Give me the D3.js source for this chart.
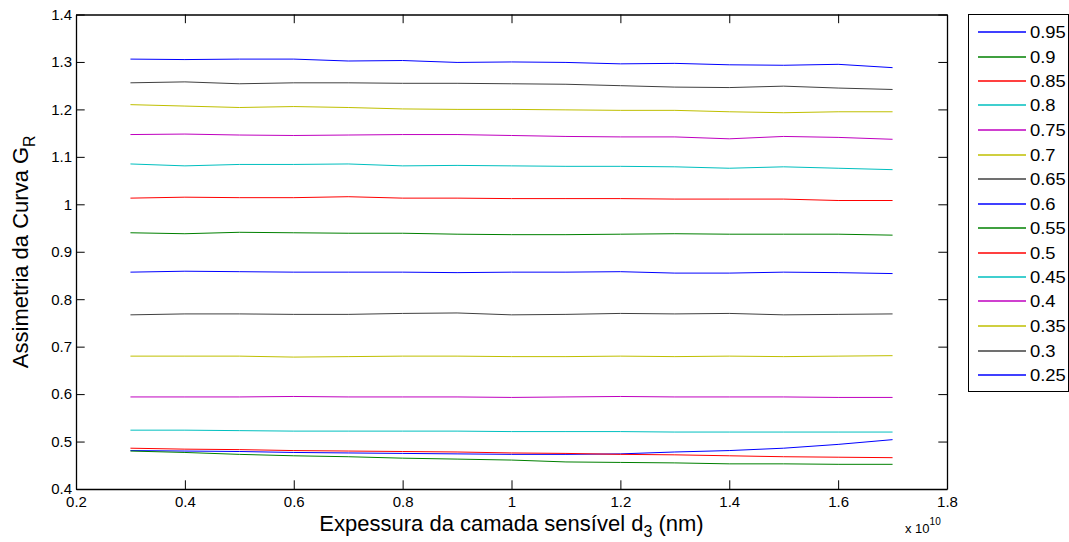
<!DOCTYPE html>
<html>
<head>
<meta charset="utf-8">
<script src="https://cdn.jsdelivr.net/npm/d3@7"></script>
<style>
  html, body { margin: 0; padding: 0; background: #fff; }
  svg { display: block; font-family: "Liberation Sans", Arial, Helvetica, sans-serif; }
</style>
</head>
<body>
<svg id="chart" width="1069" height="542"></svg>
<script>
// ---- data ----
const xValues = [0.3e10, 0.4e10, 0.5e10, 0.6e10, 0.7e10, 0.8e10, 0.9e10, 1.0e10, 1.1e10, 1.2e10, 1.3e10, 1.4e10, 1.5e10, 1.6e10, 1.7e10];
const seriesNames = ["0.95", "0.9", "0.85", "0.8", "0.75", "0.7", "0.65", "0.6", "0.55", "0.5", "0.45", "0.4", "0.35", "0.3", "0.25"];
const s095 = [0.481, 0.480, 0.479, 0.477, 0.476, 0.475, 0.474, 0.473, 0.473, 0.474, 0.478, 0.481, 0.486, 0.494, 0.504];
const s090 = [0.480, 0.477, 0.473, 0.470, 0.468, 0.465, 0.463, 0.461, 0.457, 0.456, 0.455, 0.453, 0.453, 0.452, 0.452];
const s085 = [0.486, 0.484, 0.483, 0.481, 0.480, 0.479, 0.478, 0.476, 0.475, 0.473, 0.472, 0.470, 0.468, 0.467, 0.466];
const s080 = [0.524, 0.524, 0.523, 0.522, 0.522, 0.522, 0.522, 0.521, 0.521, 0.521, 0.520, 0.520, 0.520, 0.520, 0.520];
const s075 = [0.594, 0.594, 0.594, 0.595, 0.594, 0.594, 0.594, 0.593, 0.594, 0.595, 0.594, 0.594, 0.594, 0.593, 0.593];
const s070 = [0.680, 0.680, 0.680, 0.678, 0.679, 0.680, 0.680, 0.679, 0.679, 0.680, 0.679, 0.680, 0.679, 0.680, 0.681];
const s065 = [0.767, 0.769, 0.769, 0.768, 0.768, 0.770, 0.771, 0.767, 0.768, 0.770, 0.769, 0.770, 0.767, 0.768, 0.769];
const s060 = [0.857, 0.859, 0.858, 0.857, 0.857, 0.857, 0.856, 0.857, 0.857, 0.858, 0.855, 0.855, 0.857, 0.856, 0.854];
const s055 = [0.940, 0.938, 0.941, 0.940, 0.939, 0.939, 0.937, 0.936, 0.936, 0.937, 0.938, 0.937, 0.937, 0.937, 0.935];
const s050 = [1.013, 1.015, 1.014, 1.014, 1.016, 1.013, 1.013, 1.012, 1.012, 1.012, 1.011, 1.011, 1.011, 1.008, 1.008];
const s045 = [1.085, 1.081, 1.084, 1.084, 1.085, 1.081, 1.082, 1.081, 1.080, 1.080, 1.079, 1.076, 1.079, 1.076, 1.073];
const s040 = [1.147, 1.148, 1.146, 1.145, 1.146, 1.147, 1.147, 1.145, 1.143, 1.142, 1.142, 1.138, 1.143, 1.141, 1.137];
const s035 = [1.210, 1.207, 1.204, 1.206, 1.204, 1.201, 1.200, 1.200, 1.199, 1.198, 1.198, 1.195, 1.193, 1.195, 1.195];
const s030 = [1.256, 1.258, 1.254, 1.256, 1.256, 1.255, 1.255, 1.254, 1.253, 1.250, 1.247, 1.246, 1.249, 1.245, 1.242];
const s025 = [1.306, 1.305, 1.306, 1.306, 1.302, 1.303, 1.299, 1.300, 1.299, 1.296, 1.297, 1.294, 1.293, 1.295, 1.288];
const seriesValues = [s095, s090, s085, s080, s075, s070, s065, s060, s055, s050, s045, s040, s035, s030, s025];
const seriesColors = ["#0000ff", "#008000", "#ff0000", "#00bfbf", "#bf00bf", "#bfbf00", "#404040",
                      "#0000ff", "#008000", "#ff0000", "#00bfbf", "#bf00bf", "#bfbf00", "#404040", "#0000ff"];
const xTicks = [0.2e10, 0.4e10, 0.6e10, 0.8e10, 1.0e10, 1.2e10, 1.4e10, 1.6e10, 1.8e10];
const xTickLabels = ["0.2", "0.4", "0.6", "0.8", "1", "1.2", "1.4", "1.6", "1.8"];
const yTicks = [0.4, 0.5, 0.6, 0.7, 0.8, 0.9, 1.0, 1.1, 1.2, 1.3, 1.4];
const yTickLabels = ["0.4", "0.5", "0.6", "0.7", "0.8", "0.9", "1", "1.1", "1.2", "1.3", "1.4"];

// ---- layout ----
const L = 76, R = 947, T = 14.5, B = 489;
const svg = d3.select("#chart");
const x = d3.scaleLinear().domain([0.2e10, 1.8e10]).range([L, R]);
const y = d3.scaleLinear().domain([0.4, 1.4]).range([B, T]);
const tickLen = 8.7;

// lines
const line = d3.line().x((d, i) => x(xValues[i])).y(d => y(d));
seriesValues.forEach((vals, k) => {
  svg.append("path")
    .attr("d", line(vals))
    .attr("fill", "none")
    .attr("stroke", seriesColors[k])
    .attr("stroke-width", 1);
});

// axes (MATLAB style: ticks inside, box on)
const axBottom = d3.axisBottom(x).tickValues(xTicks).tickSizeInner(-tickLen).tickSizeOuter(0)
  .tickFormat((d, i) => xTickLabels[i]).tickPadding(7);
const axTop = d3.axisTop(x).tickValues(xTicks).tickSizeInner(-tickLen).tickSizeOuter(0).tickFormat("");
const axLeft = d3.axisLeft(y).tickValues(yTicks).tickSizeInner(-tickLen).tickSizeOuter(0)
  .tickFormat((d, i) => yTickLabels[i]).tickPadding(4);
const axRight = d3.axisRight(y).tickValues(yTicks).tickSizeInner(-tickLen).tickSizeOuter(0).tickFormat("");

function style(g) {
  g.select(".domain").attr("stroke", "#000").attr("stroke-width", 1.3);
  g.selectAll(".tick line").attr("stroke", "#000").attr("stroke-width", 1);
  g.selectAll(".tick text").attr("fill", "#000").attr("font-size", 15)
    .attr("font-family", "'Liberation Sans', Arial, Helvetica, sans-serif");
}
svg.append("g").attr("transform", `translate(0,${B})`).call(axBottom).call(style);
svg.append("g").attr("transform", `translate(0,${T})`).call(axTop).call(style);
svg.append("g").attr("transform", `translate(${L},0)`).call(axLeft).call(style);
svg.append("g").attr("transform", `translate(${R},0)`).call(axRight).call(style);

// x label
const xl = svg.append("text").attr("x", (L + R) / 2).attr("y", 531)
  .attr("text-anchor", "middle").attr("font-size", 22).attr("fill", "#000");
xl.append("tspan").text("Expessura da camada sensível d");
xl.append("tspan").attr("font-size", 16).attr("dy", 6).text("3");
xl.append("tspan").attr("dy", -6).text(" (nm)");

// y label
const yl = svg.append("text").attr("transform", `translate(28,${(T + B) / 2}) rotate(-90)`)
  .attr("text-anchor", "middle").attr("font-size", 22).attr("fill", "#000");
yl.append("tspan").text("Assimetria da Curva G");
yl.append("tspan").attr("font-size", 16).attr("dy", 7).text("R");

// exponent
const ex = svg.append("text").attr("x", 905).attr("y", 533).attr("font-size", 13).attr("fill", "#000");
ex.append("tspan").text("x 10");
ex.append("tspan").attr("font-size", 10).attr("dy", -8).text("10");

// legend
const legX = 968.5, legY = 14.5, legW = 100, legH = 377;
svg.append("rect").attr("x", legX).attr("y", legY).attr("width", legW).attr("height", legH)
  .attr("fill", "#fff").attr("stroke", "#000").attr("stroke-width", 1);
const rowY = d3.scaleLinear().domain([0, seriesNames.length - 1]).range([32, 375]);
seriesNames.forEach((name, k) => {
  const yy = Math.round(rowY(k));
  svg.append("line").attr("x1", 978).attr("x2", 1026).attr("y1", yy).attr("y2", yy)
    .attr("stroke", seriesColors[k]).attr("stroke-width", 1.4);
  svg.append("text").attr("transform", `translate(1030,${yy + 5.5}) scale(1.15,1)`)
    .attr("font-size", 16).attr("fill", "#000").text(name);
});
</script>
</body>
</html>
